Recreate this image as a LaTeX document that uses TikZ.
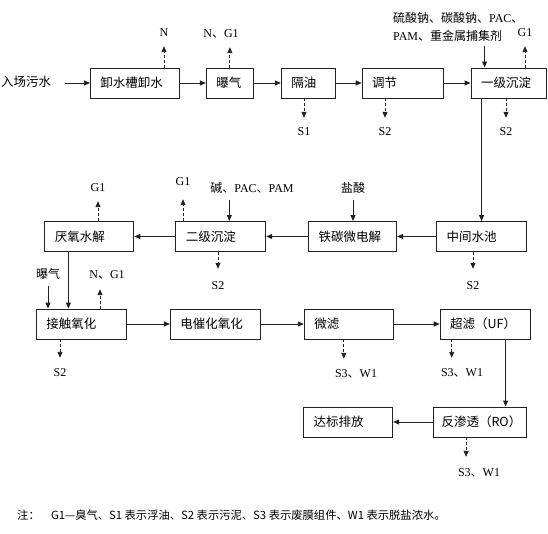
\documentclass[tikz,border=0pt]{standalone}
\usepackage{fontspec}
\setmainfont{Liberation Serif}
\newfontfamily\cjk{Noto Sans CJK SC}
\usetikzlibrary{arrows.meta,positioning}
\definecolor{ink}{HTML}{222222}
\tikzset{
  >={Triangle[length=6pt,width=5pt]},
  flow/.style={->,draw=ink,line width=0.9pt},
  outflow/.style={flow,dash pattern=on 3pt off 2pt},
  box/.style={draw=ink,line width=0.9pt,minimum height=30pt,inner xsep=10pt,inner ysep=0pt,
    align=left,font=\cjk\fontsize{12.5}{15}\selectfont},
  tag/.style={inner sep=1pt,text height=8pt,text depth=0pt,font=\fontsize{12}{14}\selectfont},
  feed/.style={inner sep=1pt,text height=9pt,text depth=2pt,font=\cjk\fontsize{12}{14}\selectfont}
}
\newcommand\dun{{\cjk 、}}

\begin{document}
\begin{tikzpicture}[x=1pt,y=-1pt]
  \useasboundingbox (0,0) rectangle (548,534);
  % first row
  \node[feed,anchor=west,inner sep=0pt,font=\cjk\fontsize{12.5}{15}\selectfont] (ru) at (1,83) {入场污水};
  \node[box,text width=69pt,anchor=west] (xie) at (90,83) {卸水槽卸水};
  \node[box,text width=27pt,right=26pt of xie] (baoqi) {曝气};
  \node[box,text width=34pt,right=27pt of baoqi] (geyou) {隔油};
  \node[box,text width=61pt,right=26pt of geyou] (tiaojie) {调节};
  \node[box,text width=55pt,right=27pt of tiaojie] (yiji) {一级沉淀};
  \draw[flow,shorten <=14pt] (ru)--(xie); \draw[flow] (xie)--(baoqi); \draw[flow] (baoqi)--(geyou);
  \draw[flow] (geyou)--(tiaojie); \draw[flow] (tiaojie)--(yiji);
  % second row
  \node[box,text width=70pt,anchor=east] (zhongjian) at (527,236.5) {中间水池};
  \node[box,text width=68pt,left=39pt of zhongjian] (tietan) {铁碳微电解};
  \node[box,text width=70pt,left=42pt of tietan] (erji) {二级沉淀};
  \node[box,text width=69pt,left=41pt of erji] (yanyang) {厌氧水解};
  \draw[flow] (yiji.south -| zhongjian)--(zhongjian);
  \draw[flow] (zhongjian)--(tietan); \draw[flow] (tietan)--(erji); \draw[flow] (erji)--(yanyang);
  % third row
  \node[box,text width=70pt,anchor=west] (jiechu) at (36,324) {接触氧化};
  \node[box,text width=70pt,right=43pt of jiechu] (dian) {电催化氧化};
  \node[box,text width=69pt,right=43pt of dian] (weilv) {微滤};
  \node[box,text width=70pt,right=46pt of weilv] (chaolv) {超滤（UF）};
  \draw[flow] ([xshift=24pt]yanyang.south west)--([xshift=24pt]yanyang.south west |- jiechu.north);
  \draw[flow] (jiechu)--(dian); \draw[flow] (dian)--(weilv); \draw[flow] (weilv)--(chaolv);
  % last row
  \node[box,text width=77pt,inner xsep=8pt,anchor=east] (fanshen) at (527,422) {反渗透（RO）};
  \node[box,text width=69pt,left=40pt of fanshen] (dabiao) {达标排放};
  \draw[flow] ([xshift=-25pt]chaolv.south east)--([xshift=-25pt]chaolv.south east |- fanshen.north);
  \draw[flow] (fanshen)--(dabiao);
  % dosing
  \node[feed,anchor=west,align=left,text height=,text depth=,font=\cjk\fontsize{12}{18}\selectfont] (chem) at (392,27)
    {硫酸钠、碳酸钠、{\rmfamily PAC}、\\{\rmfamily PAM}、重金属捕集剂};
  \node[feed] (jian) at (252,189) {碱、{\rmfamily PAC}、{\rmfamily PAM}};
  \node[feed] (yansuan) at (353,189) {盐酸};
  \node[feed] (bq) at (48,275) {曝气};
  \draw[flow,shorten <=3pt] ([xshift=14pt]yiji.north west |- chem.south)--([xshift=14pt]yiji.north west);
  \draw[flow,shorten <=4pt] ([xshift=54pt]erji.north west |- jian.south)--([xshift=54pt]erji.north west);
  \draw[flow,shorten <=4pt] (yansuan)--(tietan.north -| yansuan);
  \draw[flow,shorten <=4pt] (bq)--(jiechu.north -| bq);
  % off-gas
  \node[tag] (n1) at (164,33) {N};
  \node[tag] (ng1) at (221,34) {N\dun G1};
  \node[tag] (g1a) at (525,33) {G1};
  \node[tag] (g1b) at (183,182) {G1};
  \node[tag] (g1c) at (98,188) {G1};
  \node[tag] (ng2) at (107,275) {N\dun G1};
  \draw[outflow,shorten >=8pt] (xie.north -| n1)--(n1);
  \draw[outflow,shorten >=8pt] (baoqi.north)--(baoqi.north |- ng1.south);
  \draw[outflow,shorten >=8pt] (yiji.north -| g1a)--(g1a);
  \draw[outflow,shorten >=12pt] (erji.north -| g1b)--(g1b);
  \draw[outflow,shorten >=8pt] (yanyang.north -| g1c)--(g1c);
  \draw[outflow,shorten >=9pt] ([xshift=64pt]jiechu.north west)--([xshift=64pt]jiechu.north west |- ng2.south);
  % sludge and residues
  \node[tag] (s1) at (304,132) {S1};
  \node[tag] (s2a) at (385,132) {S2};
  \node[tag] (s2b) at (506,132) {S2};
  \node[tag] (s2c) at (473,285) {S2};
  \node[tag] (s2d) at (218,285) {S2};
  \node[tag] (s2e) at (60,372) {S2};
  \node[tag] (sw1) at (356,373) {S3\dun W1};
  \node[tag] (sw2) at (462,372) {S3\dun W1};
  \node[tag] (sw3) at (479,472) {S3\dun W1};
  \draw[outflow,shorten >=9pt] (geyou.south -| s1)--(s1);
  \draw[outflow,shorten >=9pt] (tiaojie.south -| s2a)--(s2a);
  \draw[outflow,shorten >=9pt] (yiji.south -| s2b)--(s2b);
  \draw[outflow,shorten >=11pt] (zhongjian.south -| s2c)--(s2c);
  \draw[outflow,shorten >=11pt] (erji.south -| s2d)--(s2d);
  \draw[outflow,shorten >=9pt] (jiechu.south -| s2e)--(s2e);
  \draw[outflow,shorten >=9pt] ([xshift=40pt]weilv.south west)--([xshift=40pt]weilv.south west |- sw1.north);
  \draw[outflow,shorten >=9pt] ([xshift=12pt]chaolv.south west)--([xshift=12pt]chaolv.south west |- sw2.north);
  \draw[outflow,shorten >=10pt] ([xshift=33pt]fanshen.south west)--([xshift=33pt]fanshen.south west |- sw3.north);
  % note
  \node[anchor=west,inner sep=0pt,font=\cjk\fontsize{11.3}{13}\selectfont] (note) at (17,515)
    {注：\quad G1—臭气、S1 表示浮油、S2 表示污泥、S3 表示废膜组件、W1 表示脱盐浓水。};
\end{tikzpicture}
\end{document}
